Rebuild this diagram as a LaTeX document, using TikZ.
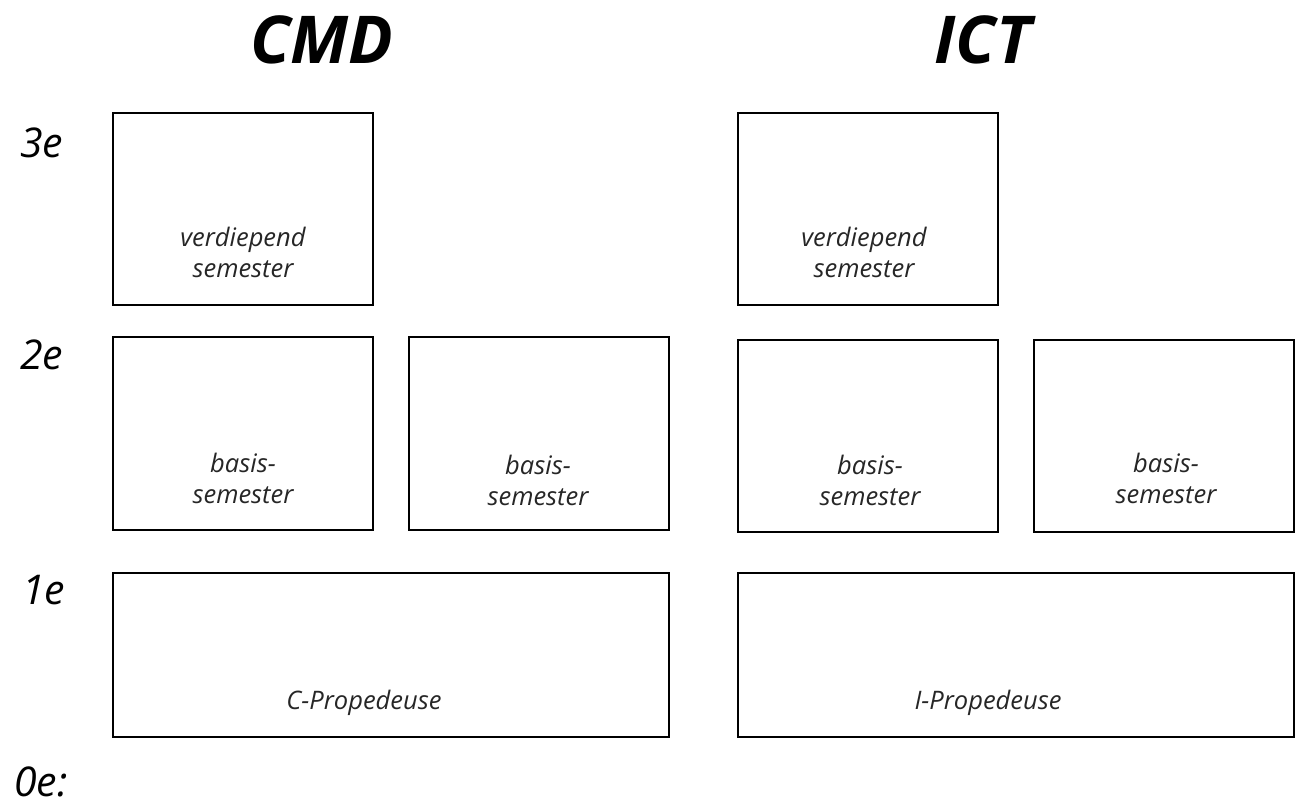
\documentclass[tikz,border=0pt]{standalone}
\usepackage{fontspec}
\setmainfont{Open Sans}
\begin{document}
\begin{tikzpicture}[x=1pt,y=-1pt,
  box/.style={draw=black,line width=1.6pt,rectangle,inner sep=0pt},
  boxtext/.style={font=\itshape\fontsize{25.5}{31}\selectfont,text=black!85,align=center,inner sep=0pt},
  rowlabel/.style={font=\itshape\fontsize{41}{41}\selectfont,anchor=west,inner sep=0pt},
  title/.style={font=\bfseries\itshape\fontsize{66}{66}\selectfont,inner sep=0pt}]
\useasboundingbox (0,0) rectangle (1297,810);
% titles
\node[title] (tcmd) at (322,40) {CMD};
\node[title] (tict) at (983,40) {ICT};
% row labels
\node[rowlabel] (r3) at (20,143) {3e};
\node[rowlabel] (r2) at (20,355) {2e};
\node[rowlabel] (r1) at (22,590) {1e};
\node[rowlabel] (r0) at (14,782) {0e:};
% CMD boxes
\node[box,minimum width=260pt,minimum height=192pt] (c3) at (243,209) {};
\node[box,minimum width=260pt,minimum height=193pt] (c2a) at (243,433.5) {};
\node[box,minimum width=260pt,minimum height=193pt] (c2b) at (539,433.5) {};
\node[box,minimum width=556pt,minimum height=164pt] (c1) at (391,655) {};
% ICT boxes
\node[box,minimum width=260pt,minimum height=192pt] (i3) at (868,209) {};
\node[box,minimum width=260pt,minimum height=192pt] (i2a) at (868,436) {};
\node[box,minimum width=260pt,minimum height=192pt] (i2b) at (1164,436) {};
\node[box,minimum width=556pt,minimum height=164pt] (i1) at (1016,655) {};
% box texts
\node[boxtext] (c3t) at (243,252) {verdiepend\\semester};
\node[boxtext] (c2at) at (243,478) {basis-\\semester};
\node[boxtext] (c2bt) at (538,480) {basis-\\semester};
\node[boxtext] (c1t) at (364,703) {C-Propedeuse};
\node[boxtext] (i3t) at (864,252) {verdiepend\\semester};
\node[boxtext] (i2at) at (870,480) {basis-\\semester};
\node[boxtext] (i2bt) at (1166,478) {basis-\\semester};
\node[boxtext] (i1t) at (988,703) {I-Propedeuse};
\end{tikzpicture}
\end{document}
